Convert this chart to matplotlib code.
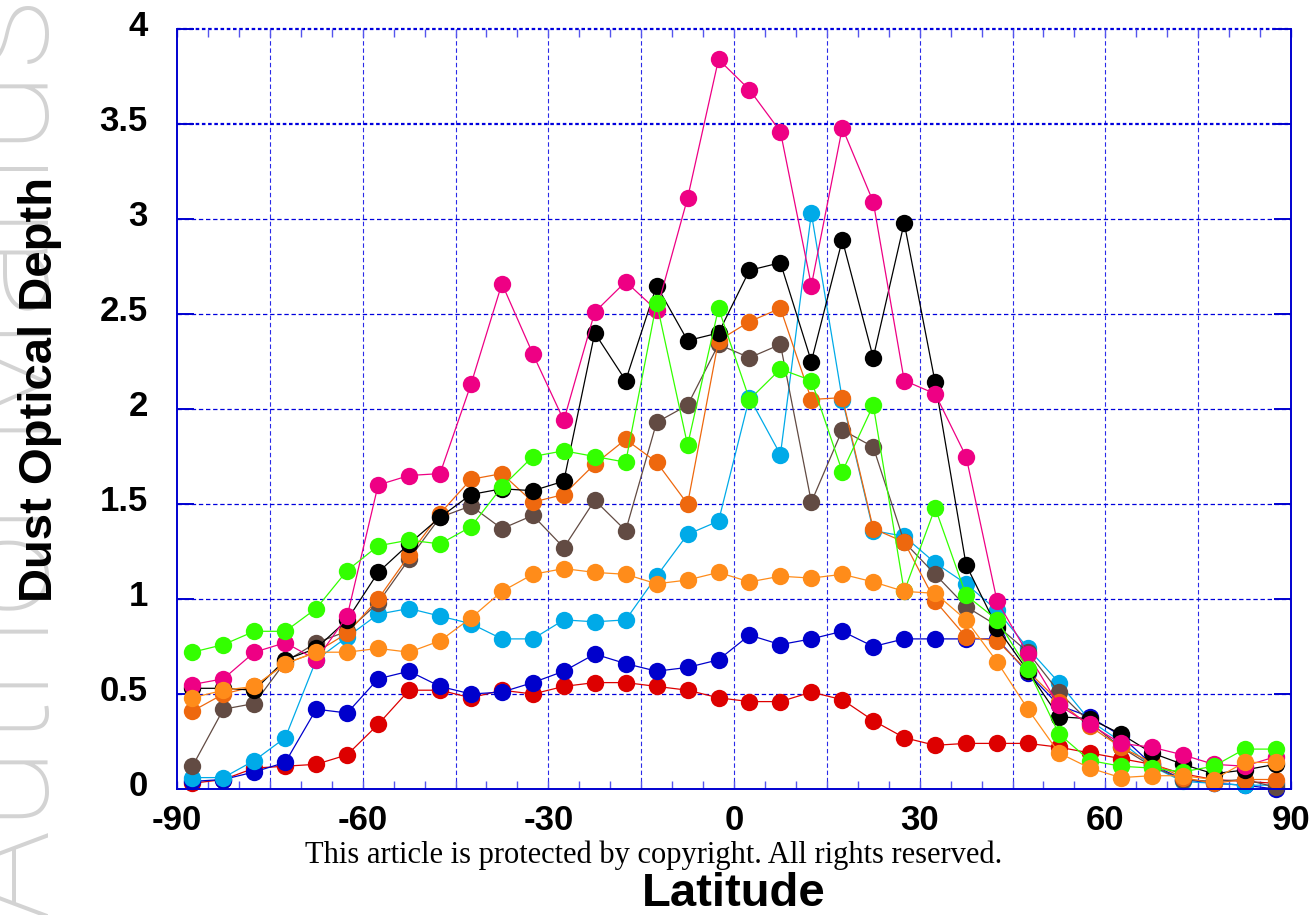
import matplotlib
matplotlib.use("Agg")
import matplotlib.pyplot as plt
from matplotlib.ticker import FixedLocator, FuncFormatter
from matplotlib.transforms import ScaledTranslation

plt.rcParams['font.family'] = ['Liberation Sans', 'DejaVu Sans']
plt.rcParams['axes.unicode_minus'] = False

# Latitude band centres (degrees)
latitude = [-87.5, -82.5, -77.5, -72.5, -67.5, -62.5, -57.5, -52.5, -47.5,
            -42.5, -37.5, -32.5, -27.5, -22.5, -17.5, -12.5, -7.5, -2.5,
            2.5, 7.5, 12.5, 17.5, 22.5, 27.5, 32.5, 37.5, 42.5, 47.5,
            52.5, 57.5, 62.5, 67.5, 72.5, 77.5, 82.5, 87.5]

# Zonal-mean dust optical depth, one list per curve
tau_red = [0.03, 0.05, 0.11, 0.12, 0.13, 0.18, 0.34, 0.52, 0.52, 0.48, 0.52, 0.50,
           0.54, 0.56, 0.56, 0.54, 0.52, 0.48, 0.46, 0.46, 0.51, 0.47, 0.36, 0.27,
           0.23, 0.24, 0.24, 0.24, 0.22, 0.19, 0.16, 0.13, 0.08, 0.05, 0.04, 0.03]
tau_blue = [0.04, 0.05, 0.09, 0.14, 0.42, 0.40, 0.58, 0.62, 0.54, 0.50, 0.51, 0.56,
            0.62, 0.71, 0.66, 0.62, 0.64, 0.68, 0.81, 0.76, 0.79, 0.83, 0.75, 0.79,
            0.79, 0.79, 0.79, 0.61, 0.44, 0.38, 0.28, 0.13, 0.05, 0.03, 0.02, 0.00]
tau_cyan = [0.06, 0.06, 0.15, 0.27, 0.68, 0.80, 0.92, 0.95, 0.91, 0.87, 0.79, 0.79,
            0.89, 0.88, 0.89, 1.12, 1.34, 1.41, 2.06, 1.76, 3.03, 2.05, 1.36, 1.33,
            1.19, 1.08, 0.94, 0.74, 0.56, 0.36, 0.25, 0.12, 0.04, 0.03, 0.02, 0.02]
tau_brown = [0.12, 0.42, 0.45, 0.67, 0.77, 0.83, 0.98, 1.21, 1.43, 1.49, 1.37, 1.44,
             1.27, 1.52, 1.36, 1.93, 2.02, 2.34, 2.27, 2.34, 1.51, 1.89, 1.80, 1.30,
             1.13, 0.96, 0.86, 0.72, 0.51, 0.35, 0.22, 0.12, 0.05, 0.04, 0.05, 0.01]
tau_darkorange = [0.41, 0.50, 0.54, 0.66, 0.72, 0.82, 1.00, 1.23, 1.45, 1.63, 1.66, 1.51,
                  1.55, 1.71, 1.84, 1.72, 1.50, 2.36, 2.46, 2.53, 2.05, 2.06, 1.37, 1.30,
                  0.99, 0.80, 0.78, 0.62, 0.46, 0.33, 0.22, 0.14, 0.06, 0.03, 0.05, 0.05]
tau_black = [0.53, 0.53, 0.52, 0.68, 0.74, 0.89, 1.14, 1.29, 1.43, 1.55, 1.58, 1.57,
             1.62, 2.40, 2.15, 2.65, 2.36, 2.40, 2.73, 2.77, 2.25, 2.89, 2.27, 2.98,
             2.14, 1.18, 0.85, 0.62, 0.38, 0.37, 0.29, 0.19, 0.13, 0.08, 0.10, 0.13]
tau_pink = [0.55, 0.58, 0.72, 0.77, 0.68, 0.91, 1.60, 1.65, 1.66, 2.13, 2.66, 2.29,
            1.94, 2.51, 2.67, 2.52, 3.11, 3.84, 3.68, 3.46, 2.65, 3.48, 3.09, 2.15,
            2.08, 1.75, 0.99, 0.71, 0.44, 0.34, 0.24, 0.22, 0.18, 0.13, 0.12, 0.17]
tau_green = [0.72, 0.76, 0.83, 0.83, 0.95, 1.15, 1.28, 1.31, 1.29, 1.38, 1.59, 1.75,
             1.78, 1.75, 1.72, 2.56, 1.81, 2.53, 2.05, 2.21, 2.15, 1.67, 2.02, 1.04,
             1.48, 1.02, 0.89, 0.63, 0.29, 0.15, 0.12, 0.11, 0.09, 0.12, 0.21, 0.21]
tau_lightorange = [0.48, 0.52, 0.54, 0.66, 0.72, 0.72, 0.74, 0.72, 0.78, 0.90, 1.04, 1.13,
                   1.16, 1.14, 1.13, 1.08, 1.10, 1.14, 1.09, 1.12, 1.11, 1.13, 1.09, 1.04,
                   1.03, 0.89, 0.67, 0.42, 0.19, 0.11, 0.06, 0.07, 0.07, 0.05, 0.14, 0.14]

curves = [
    (tau_red, '#dd0000'),
    (tau_blue, '#0000cc'),
    (tau_cyan, '#00aae8'),
    (tau_brown, '#624b43'),
    (tau_darkorange, '#ee680e'),
    (tau_black, '#000000'),
    (tau_pink, '#ee0084'),
    (tau_green, '#33ff00'),
    (tau_lightorange, '#ff8c1a'),
]

y_ticks = [0, 0.5, 1, 1.5, 2, 2.5, 3, 3.5, 4]
x_grid = [-90, -75, -60, -45, -30, -15, 0, 15, 30, 45, 60, 75, 90]
x_minor = list(range(-90, 91, 5))

W, H = 1316, 915
fig = plt.figure(figsize=(W / 100, H / 100), dpi=100)
ax = fig.add_axes([177 / W, 1 - 789 / H, (1291 - 177) / W, (789 - 29) / H])

axis_blue = '#0000d0'
grid_blue = '#2a2ae8'

ax.set_xlim(-90, 90)
ax.set_ylim(0, 4)

# dashed grid
for gx in x_grid[1:-1]:
    ax.axvline(gx, color=grid_blue, lw=0.8, dashes=(4, 2.5), zorder=0)
for gy in y_ticks[1:-1]:
    if gy == 3.5:
        ax.axhline(gy, color='#0000dd', lw=1.6, dashes=(1.6, 1.2), zorder=0)
    else:
        ax.axhline(gy, color='#0000dd', lw=0.9, dashes=(3.5, 2.2), zorder=0)
ax.axhline(4, color='#0000dd', lw=1.6, dashes=(1.6, 1.2), zorder=0, clip_on=False)

for tau, col in curves:
    ax.plot(latitude, tau, color=col, lw=0.9, marker='o', markersize=12.5,
            markeredgewidth=0, clip_on=False)

# spines
for side in ['left', 'right', 'bottom']:
    ax.spines[side].set_color(axis_blue)
    ax.spines[side].set_linewidth(1.4)
ax.spines['top'].set_visible(False)

# ticks
ax.yaxis.set_major_locator(FixedLocator(y_ticks))
ax.yaxis.set_major_formatter(FuncFormatter(lambda v, p: '%g' % v))
ax.xaxis.set_major_locator(FixedLocator(x_grid))
ax.xaxis.set_minor_locator(FixedLocator(x_minor))
ax.xaxis.set_major_formatter(FuncFormatter(lambda v, p: '%d' % v if int(v) % 30 == 0 else ''))

ax.tick_params(axis='y', which='major', direction='in', length=12, width=1.4,
               color=axis_blue, left=True, right=True, pad=21,
               labelsize=25, labelcolor='black')
ax.tick_params(axis='x', which='both', direction='in', length=6, width=1.0,
               color='#5555ee', top=True, bottom=True)
ax.tick_params(axis='x', which='major', pad=11, labelsize=25, labelcolor='black')

for lab in ax.get_yticklabels():
    lab.set_fontweight('bold')
    lab.set_transform(lab.get_transform() + ScaledTranslation(0, 0.06, fig.dpi_scale_trans))
for lab in ax.get_xticklabels():
    lab.set_fontweight('bold')

# axis titles
fig.text(52 / W, 1 - 390 / H, 'Dust Optical Depth', rotation=90, rotation_mode='anchor',
         ha='center', va='baseline', fontsize=34, fontweight='bold')
fig.text(734 / W, 1 - 906 / H, 'Latitude', ha='center', va='baseline',
         fontsize=34, fontweight='bold')

# copyright notice and margin stamp
fig.text(654 / W, 1 - 863 / H, 'This article is protected by copyright. All rights reserved.',
         ha='center', va='baseline', fontsize=22, family=['Liberation Serif', 'DejaVu Serif'])
fig.text(49 / W, 1 - 920 / H, 'Author Manuscript', rotation=90, rotation_mode='anchor',
         ha='left', va='baseline', fontsize=109, color='#d3d3d3', zorder=-1,
         family=['Roboto', 'Liberation Sans'], fontweight='light')

fig.savefig('out.png', dpi=100)
